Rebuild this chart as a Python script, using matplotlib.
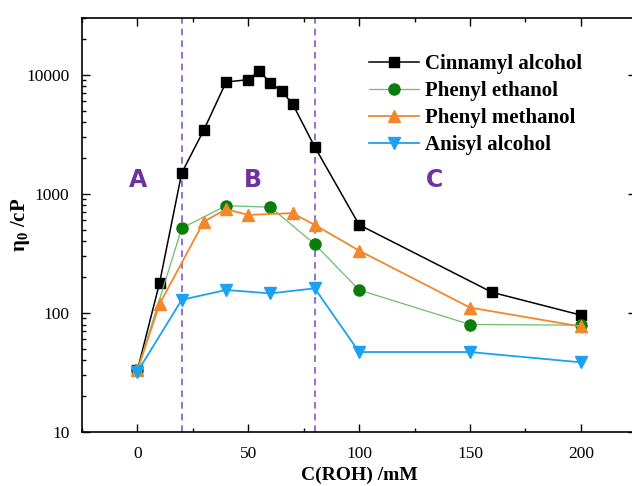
import matplotlib
matplotlib.use("Agg")
import matplotlib.pyplot as plt
from matplotlib.ticker import LogLocator, NullFormatter, MultipleLocator

plt.rcParams['font.family'] = ['Liberation Serif', 'DejaVu Serif']
plt.rcParams['mathtext.fontset'] = 'custom'
plt.rcParams['mathtext.rm'] = 'Liberation Serif:bold'
plt.rcParams['mathtext.bf'] = 'Liberation Serif:bold'
plt.rcParams['mathtext.it'] = 'Liberation Serif:bold'

# data
cinnamyl_x = [0, 10, 20, 30, 40, 50, 55, 60, 65, 70, 80, 100, 160, 200]
cinnamyl_y = [33, 179, 1500, 3450, 8700, 9100, 10800, 8500, 7300, 5700, 2480, 550, 149, 96]

ethanol_x = [0, 20, 40, 60, 80, 100, 150, 200]
ethanol_y = [33, 515, 797, 773, 378, 156, 80, 79]

methanol_x = [0, 10, 30, 40, 50, 70, 80, 100, 150, 200]
methanol_y = [33, 119, 585, 744, 666, 689, 549, 334, 111, 77]

anisyl_x = [0, 20, 40, 60, 80, 100, 150, 200]
anisyl_y = [32, 129, 156, 146, 161, 47, 47, 38.5]

boundaries = [20, 80]
region_labels = ['A', 'B', 'C']
region_x = [0.5, 52, 134]
region_y = 1310

fig = plt.figure(figsize=(6.32, 4.86), dpi=100)
ax = fig.add_axes([0.1297, 0.111, 0.877, 0.852])

purple = '#7030A0'
for b in boundaries:
    ax.axvline(b, color='#8A55C8', linestyle=(0, (4, 3)), linewidth=1.2, zorder=1)

ax.plot(cinnamyl_x, cinnamyl_y, color='black', linewidth=1.1, marker='s',
        markersize=7.5, markerfacecolor='black', markeredgecolor='black',
        label='Cinnamyl alcohol', zorder=3)
ax.plot(ethanol_x, ethanol_y, color='#6ABF6A', linewidth=0.9, marker='o',
        markersize=8, markerfacecolor='#0A7D0A', markeredgecolor='#0A7D0A',
        label='Phenyl ethanol', zorder=3)
ax.plot(methanol_x, methanol_y, color='#F4862B', linewidth=1.3, marker='^',
        markersize=9, markerfacecolor='#F4862B', markeredgecolor='#F4862B',
        label='Phenyl methanol', zorder=4)
ax.plot(anisyl_x, anisyl_y, color='#1BA1F2', linewidth=1.3, marker='v',
        markersize=9, markerfacecolor='#1BA1F2', markeredgecolor='#1BA1F2',
        label='Anisyl alcohol', zorder=5)

for lab, xx in zip(region_labels, region_x):
    ax.text(xx, region_y, lab, color=purple, fontsize=17, fontweight='bold',
            family=['DejaVu Sans'], ha='center', va='center')

ax.set_yscale('log')
ax.set_xlim(-25, 225)
ax.set_ylim(10, 30000)
ax.xaxis.set_major_locator(MultipleLocator(50))
ax.xaxis.set_minor_locator(MultipleLocator(25))
ax.yaxis.set_major_locator(LogLocator(base=10))
ax.yaxis.set_minor_locator(LogLocator(base=10, subs=range(2, 10)))
ax.yaxis.set_minor_formatter(NullFormatter())
ax.set_yticks([10, 100, 1000, 10000])
ax.set_yticklabels(['10', '100', '1000', '10000'])

ax.tick_params(which='both', direction='in', top=True, right=True, labelsize=12.5)
ax.tick_params(which='major', length=6, width=1)
ax.tick_params(which='minor', length=3, width=1)
ax.tick_params(axis='x', pad=10)
ax.tick_params(axis='y', pad=9)
for s in ax.spines.values():
    s.set_linewidth(1.2)

ax.set_xlabel('C(ROH) /mM', fontsize=14, fontweight='bold')
ax.set_ylabel('η$_0$ /cP', fontsize=15, fontweight='bold')
ax.xaxis.set_label_coords(0.5, -0.084)
ax.yaxis.set_label_coords(-0.09, 0.5)

ax.legend(loc='upper left', bbox_to_anchor=(0.503, 0.932), frameon=False,
          prop={'weight': 'bold', 'size': 15}, handlelength=2.4,
          handletextpad=0.3, labelspacing=0.33, borderaxespad=0)

fig.savefig('out.png', dpi=100)
